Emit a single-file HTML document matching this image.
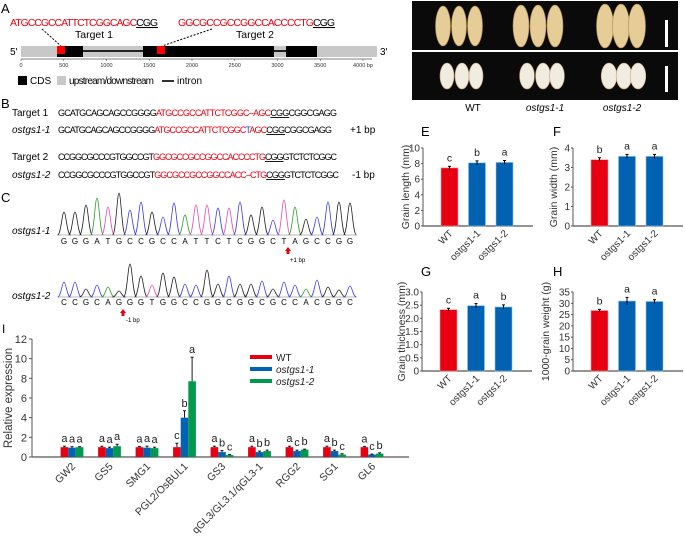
<!DOCTYPE html>
<html><head><meta charset="utf-8"><style>
body{margin:0;background:#fff}
svg{display:block;font-family:"Liberation Sans",Arial,sans-serif}
</style></head><body>
<svg id="fig" width="685" height="540" viewBox="0 0 685 540">
<g id="pa">
<text x="1" y="13" font-size="13">A</text>
<text x="10" y="26" font-size="10.5" fill="#e60012" textLength="148">ATGCCGCCATTCTCGGCAGC<tspan fill="#000" text-decoration="underline">CGG</tspan></text>
<text x="75" y="38" font-size="10.5">Target 1</text>
<text x="178" y="26" font-size="10.5" fill="#e60012" textLength="157">GGCGCCGCCGGCCACCCCTG<tspan fill="#000" text-decoration="underline">CGG</tspan></text>
<text x="236" y="38" font-size="10.5">Target 2</text>
<line x1="42" y1="29" x2="61" y2="46" stroke="#000" stroke-dasharray="2,1.5"/>
<line x1="212" y1="29" x2="162" y2="46" stroke="#000" stroke-dasharray="2,1.5"/>
<text x="10" y="55" font-size="10">5'</text>
<text x="380" y="55" font-size="10">3'</text>
<rect x="21" y="46" width="356" height="11" fill="#c8c8c8"/>
<rect x="83" y="50" width="60" height="2" fill="#222"/>
<rect x="274" y="50" width="12" height="2" fill="#222"/>
<rect x="57" y="46" width="26" height="11" fill="#000"/>
<rect x="143" y="46" width="131" height="11" fill="#000"/>
<rect x="286" y="46" width="31" height="11" fill="#000"/>
<rect x="57" y="46" width="8" height="8" fill="#ff0000"/>
<rect x="157" y="46" width="8" height="8" fill="#ff0000"/>
<line x1="21" y1="59" x2="372" y2="59" stroke="#555" stroke-width="0.7"/>
<g id="bpticks" font-size="5.5" fill="#333"></g>
<rect x="18" y="76" width="9" height="9" fill="#000"/>
<text x="30" y="84" font-size="10">CDS</text>
<rect x="57" y="76" width="9" height="9" fill="#c8c8c8"/>
<text x="69" y="84" font-size="10" textLength="85">upstream/downstream</text>
<rect x="162" y="80" width="12" height="2" fill="#333"/>
<text x="177" y="84" font-size="10">intron</text>
</g>
<g id="pb" font-size="9">
<text x="1" y="108" font-size="13">B</text>
<text x="12" y="116" font-size="10">Target 1</text>
<text x="58" y="116" textLength="279">GCATGCAGCAGCCGGGG<tspan fill="#e60012">ATGCCGCCATTCTCGGC--AGC</tspan><tspan text-decoration="underline">CGG</tspan>CGGCGAGG</text>
<text x="12" y="133" font-size="10" font-style="italic">ostgs1-1</text>
<text x="58" y="133" textLength="274">GCATGCAGCAGCCGGGG<tspan fill="#e60012">ATGCCGCCATTCTCGGC</tspan><tspan fill="#1a4fd6">T</tspan><tspan fill="#e60012">AGC</tspan><tspan text-decoration="underline">CGG</tspan>CGGCGAGG</text>
<text x="350" y="133" font-size="10">+1 bp</text>
<text x="12" y="160" font-size="10">Target 2</text>
<text x="58" y="160" textLength="279">CCGGCGCCCGTGGCCGT<tspan fill="#e60012">GGCGCCGCCGGCCACCCCTG</tspan><tspan text-decoration="underline">CGG</tspan>GTCTCTCGGC</text>
<text x="12" y="178" font-size="10" font-style="italic">ostgs1-2</text>
<text x="58" y="178" textLength="281">CCGGCGCCCGTGGCCGT<tspan fill="#e60012">GGCGCCGCCGGCCACC--CTG</tspan><tspan text-decoration="underline">CGG</tspan>GTCTCTCGGC</text>
<text x="352" y="178" font-size="10">-1 bp</text>
</g>
<g id="pc">
<text x="1" y="202" font-size="13">C</text>
<text x="12" y="234" font-size="10" font-style="italic">ostgs1-1</text>
<text x="12" y="299" font-size="10" font-style="italic">ostgs1-2</text>
<g id="chrom"></g>
<path d="M285,251 l3,-4 l3,4 h-1.5 v3 h-3 v-3z" fill="#e60012"/>
<text x="290" y="262" font-size="6">+1 bp</text>
<path d="M120,313 l3,-4 l3,4 h-1.5 v3 h-3 v-3z" fill="#e60012"/>
<text x="126" y="322" font-size="6">-1 bp</text>
</g>
<g id="pd">
<text x="665" y="13" font-size="13">D</text>
<rect x="412" y="1" width="266" height="49" fill="#0a0a0a"/>
<rect x="412" y="52" width="266" height="48" fill="#0a0a0a"/>
<g id="grains"></g>
<rect x="665" y="20" width="3" height="27" fill="#fff"/>
<rect x="665" y="66" width="3" height="26" fill="#fff"/>
<text x="473" y="111" font-size="10" text-anchor="middle">WT</text>
<text x="545" y="111" font-size="10" font-style="italic" text-anchor="middle">ostgs1-1</text>
<text x="622" y="111" font-size="10" font-style="italic" text-anchor="middle">ostgs1-2</text>
</g>
<g id="small"></g>
<g id="pi">
<text x="2" y="333" font-size="12">I</text>
</g>
</svg>
<script>
const NS='http://www.w3.org/2000/svg';
// ---- Data ----
const bpTicks=[0,500,1000,1500,2000,2500,3000,3500,4000];
const chrom1Bases=['G','G','G','A','T','G','C','C','G','C','C','A','T','T','C','T','C','G','G','C','T','A','G','C','C','G','G'];
const chrom1Heights=[23,23,30,37,28,42,25,33,23,18,32,20,30,30,27,27,33,20,28,15,35,28,16,18,33,33,32];
const chrom2Bases=['C','C','G','C','A','G','G','G','T','G','G','C','C','G','G','C','G','G','C','G','C','C','A','C','G','G','C'];
const chrom2Heights=[15,15,8,12,10,6,33,21,12,24,20,13,12,27,13,21,13,13,16,8,15,12,8,17,10,7,11];
const grainCats=['WT','ostgs1-1','ostgs1-2'];
const lengthVals=[7.45,8.1,8.15];
const lengthErr=[0.2,0.25,0.25];
const lengthSig=['c','b','a'];
const widthVals=[3.4,3.57,3.57];
const widthErr=[0.1,0.1,0.1];
const widthSig=['b','a','a'];
const thickVals=[2.33,2.48,2.43];
const thickErr=[0.05,0.08,0.08];
const thickSig=['c','a','b'];
const weightVals=[26.8,31,30.8];
const weightErr=[0.5,1.6,0.8];
const weightSig=['b','a','a'];
const genes=['GW2','GS5','SMG1','PGL2/OsBUL1','GS3','qGL3/GL3.1/qGL3-1','RGG2','SG1','GL6'];
const seriesNames=['WT','ostgs1-1','ostgs1-2'];
const wtExpr=[1,1,1,1,1,1,1,1,1];
const m1Expr=[0.95,0.9,0.95,4.0,0.5,0.5,0.6,0.6,0.25];
const m2Expr=[1.0,1.1,0.9,7.7,0.2,0.6,0.75,0.25,0.35];
const wtErr=[0.1,0.1,0.08,0.4,0.1,0.1,0.1,0.1,0.08];
const m1Err=[0.1,0.1,0.15,0.7,0.15,0.1,0.1,0.1,0.05];
const m2Err=[0.05,0.2,0.1,2.45,0.05,0.1,0.05,0.08,0.08];
const wtSig=['a','a','a','c','a','a','a','a','a'];
const m1Sig=['a','a','a','b','b','b','c','b','c'];
const m2Sig=['a','a','a','a','c','b','b','c','b'];
const yTicksI=[0,2,4,6,8,10,12];

const RED='#e60012',BLUE='#0062b0',GREEN='#009a4e';
function el(tag,attrs,parent){const e=document.createElementNS(NS,tag);for(const k in attrs)e.setAttribute(k,attrs[k]);parent.appendChild(e);return e;}

// bp axis
const bpG=document.getElementById('bpticks');
const bpX=v=>21+v*0.0855;
bpTicks.forEach(v=>{
  const t=el('line',{x1:bpX(v),y1:59,x2:bpX(v),y2:61,stroke:'#555','stroke-width':0.6},bpG);
  
  
  const tx=el('text',{x:bpX(v),y:67,'text-anchor':'middle'},bpG);
  tx.textContent=v===4000?'4000 bp':v;
  
  
});

// chromatograms
const baseColor={G:'#222',A:'#2ca02c',T:'#e84bb3',C:'#3d3de0'};
function chrom(bases,heights,base,letterY,name){
  const g=document.getElementById('chrom');
  const x0=64,step=(350-64)/(bases.length-1);
  el('line',{x1:58,y1:base,x2:356,y2:base,stroke:'#777','stroke-width':0.6},g);
  bases.forEach((b,i)=>{
    const cx=x0+i*step,h=heights[i];
    const p=el('path',{d:`M${cx-6.5},${base} C${cx-3},${base} ${cx-2},${base-h} ${cx},${base-h} C${cx+2},${base-h} ${cx+3},${base} ${cx+6.5},${base}`,fill:'none',stroke:baseColor[b],'stroke-width':0.8},g);
    
    
    const t=el('text',{x:cx,y:letterY,'font-size':8,'text-anchor':'middle'},g);
    t.textContent=b;
    
    
  });
}
chrom(chrom1Bases,chrom1Heights,235,244,'chrom1');
chrom(chrom2Bases,chrom2Heights,297,305,'chrom2');

// grains
const gg=document.getElementById('grains');
[[443,459,475],[521,538,555],[605,621,637]].forEach((xs,k)=>xs.forEach(x=>{
  const e=el('ellipse',{cx:x,cy:26,rx:7.5+k*0.5,ry:20+k,fill:'#e6cc96',stroke:'#b08a4a','stroke-width':0.6},gg);
  
  
}));
[[447,462,476],[527,543,557],[609,624,638]].forEach((xs,k)=>xs.forEach(x=>{
  const e=el('ellipse',{cx:x,cy:76,rx:7+k*0.4,ry:13,fill:'#f0ece0',stroke:'#c9a27a','stroke-width':0.6},gg);
  
  
}));

// small bar charts
function small(cfg){
  const g=el('g',{},document.getElementById('small'));
  
  
  const L=el('text',{x:cfg.lx,y:cfg.ly,'font-size':13},g);L.textContent=cfg.label;
  
  
  const ys=v=>cfg.y0-(v/cfg.ymax)*(cfg.y0-cfg.ytop);
  el('line',{x1:cfg.ax,y1:cfg.ytop,x2:cfg.ax,y2:cfg.y0,stroke:'#555','stroke-width':1},g);
  el('line',{x1:cfg.ax,y1:cfg.y0,x2:cfg.ax+110,y2:cfg.y0,stroke:'#555','stroke-width':1.2},g);
  cfg.ticks.forEach(t=>{
    el('line',{x1:cfg.ax-2,y1:ys(t),x2:cfg.ax,y2:ys(t),stroke:'#555'},g);
    const tx=el('text',{x:cfg.ax-3,y:ys(t)+3.5,'font-size':10,'text-anchor':'end',fill:'#333'},g);
    tx.textContent=cfg.fmt?cfg.fmt(t):t;
    
    
  });
  const yt=el('text',{transform:`translate(${cfg.tx},${(cfg.y0+cfg.ytop)/2}) rotate(-90)`,'font-size':10.5,'text-anchor':'middle',fill:'#333'},g);
  yt.textContent=cfg.title;
  
  
  grainCats.forEach((c,i)=>{
    const cx=cfg.ax+26.5+i*27.5, v=cfg.vals[i], e=cfg.err[i];
    const b=el('rect',{x:cx-8.5,y:ys(v),width:17,height:cfg.y0-ys(v),fill:i?BLUE:RED,stroke:i?'#8fc0ea':'#f29aa0','stroke-width':0.6},g);
    
    
    el('line',{x1:cx,y1:ys(v+e),x2:cx,y2:ys(v-e),stroke:'#000','stroke-width':1},g);
    el('line',{x1:cx-1.5,y1:ys(v+e),x2:cx+1.5,y2:ys(v+e),stroke:'#000','stroke-width':1},g);
    const s=el('text',{x:cx,y:ys(v+e)-5,'font-size':10.5,'text-anchor':'middle',fill:'#222'},g);
    s.textContent=cfg.sig[i];
    
    
    const xl=el('text',{transform:`translate(${cx+4},${cfg.y0+8}) rotate(-45)`,'font-size':10,'text-anchor':'end',fill:'#333'},g);
    xl.textContent=c;
    
    
  });
}
small({name:'panel-e-grain-length',label:'E',lx:421,ly:136,ax:423,ytop:148,y0:226,ymax:10,ticks:[0,2,4,6,8,10],tx:409,title:'Grain length (mm)',vals:lengthVals,err:lengthErr,sig:lengthSig});
small({name:'panel-f-grain-width',label:'F',lx:553,ly:136,ax:573,ytop:148,y0:226,ymax:4,ticks:[0,1,2,3,4],tx:557,title:'Grain width (mm)',vals:widthVals,err:widthErr,sig:widthSig});
small({name:'panel-g-grain-thickness',label:'G',lx:421,ly:276,ax:422,ytop:292,y0:371,ymax:3,ticks:[0,0.5,1,1.5,2,2.5,3],fmt:t=>t===0?'0':t.toFixed(1),tx:405,title:'Grain thickness (mm)',vals:thickVals,err:thickErr,sig:thickSig});
small({name:'panel-h-grain-weight',label:'H',lx:553,ly:276,ax:573,ytop:292,y0:371,ymax:35,ticks:[0,5,10,15,20,25,30,35],tx:549,title:'1000-grain weight (g)',vals:weightVals,err:weightErr,sig:weightSig});

// panel I
(function(){
  const g=document.getElementById('pi');
  const ax=32,y0=457,ytop=339,xEnd=409,ymax=12;
  const ys=v=>y0-(v/ymax)*(y0-ytop);
  const gx=i=>72+i*37.5;
  el('line',{x1:ax,y1:ytop,x2:ax,y2:y0,stroke:'#555'},g);
  el('line',{x1:ax,y1:y0,x2:xEnd,y2:y0,stroke:'#555','stroke-width':1.2},g);
  yTicksI.forEach(t=>{
    el('line',{x1:ax-3,y1:ys(t),x2:ax,y2:ys(t),stroke:'#555'},g);
    const tx=el('text',{x:ax-5,y:ys(t)+4,'font-size':11,'text-anchor':'end',fill:'#333'},g);
    tx.textContent=t;
    
    
  });
  const yt=el('text',{transform:`translate(12,${(y0+ytop)/2}) rotate(-90)`,'font-size':11.5,'text-anchor':'middle',fill:'#333'},g);
  yt.textContent='Relative expression';
  
  
  const S=[[wtExpr,wtErr,wtSig,RED],[m1Expr,m1Err,m1Sig,BLUE],[m2Expr,m2Err,m2Sig,GREEN]];
  genes.forEach((gn,i)=>{
    S.forEach((s,k)=>{
      const cx=gx(i)+(k-1)*7.6,v=s[0][i],e=s[1][i];
      const b=el('rect',{x:cx-3.8,y:ys(v),width:7.6,height:y0-ys(v),fill:s[3]},g);
      
      
      el('line',{x1:cx,y1:ys(v+e),x2:cx,y2:ys(v),stroke:'#000','stroke-width':0.9},g);
      el('line',{x1:cx-1.5,y1:ys(v+e),x2:cx+1.5,y2:ys(v+e),stroke:'#000','stroke-width':0.9},g);
      const lt=el('text',{x:cx,y:ys(v+e)-4,'font-size':11,'text-anchor':'middle',fill:'#222'},g);
      lt.textContent=s[2][i];
      
      
    });
    const xl=el('text',{transform:`translate(${gx(i)+4},${y0+10}) rotate(-45)`,'font-size':10.5,'text-anchor':'end',fill:'#333'},g);
    xl.textContent=gn;
    
    
  });
  seriesNames.forEach((n,k)=>{
    const ly=357+k*12;
    const ln=el('line',{x1:250,y1:ly,x2:272,y2:ly,stroke:[RED,BLUE,GREEN][k],'stroke-width':4},g);
    
    
    const t=el('text',{x:276,y:ly+4,'font-size':10,'font-style':k?'italic':'normal',fill:'#222'},g);
    t.textContent=n;
    
    
  });
})();
</script>
</body></html>
